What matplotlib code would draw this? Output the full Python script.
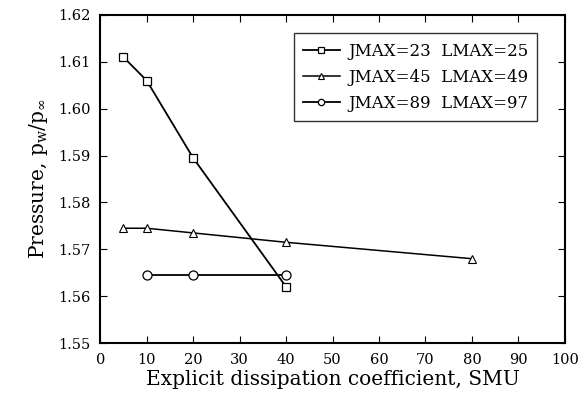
import matplotlib
matplotlib.use("Agg")
import matplotlib.pyplot as plt

plt.rcParams['font.family'] = ['DejaVu Serif']
plt.rcParams['mathtext.fontset'] = 'dejavuserif'

# dissipation coefficient (SMU) vs wall pressure ratio, one series per grid
smu_23 = [5, 10, 20, 40]
p_23 = [1.611, 1.606, 1.5895, 1.562]
smu_45 = [5, 10, 20, 40, 80]
p_45 = [1.5745, 1.5745, 1.5735, 1.5715, 1.568]
smu_89 = [10, 20, 40]
p_89 = [1.5645, 1.5645, 1.5645]
labels = ["JMAX=23  LMAX=25", "JMAX=45  LMAX=49", "JMAX=89  LMAX=97"]

fig = plt.figure(figsize=(5.86, 3.93), dpi=100)
ax = fig.add_axes([0.171, 0.127, 0.793, 0.835])

ax.plot(smu_23, p_23, color='black', lw=1.3, marker='s', ms=6, mfc='white', mec='black', mew=0.9, label=labels[0])
ax.plot(smu_45, p_45, color='black', lw=1.1, marker='^', ms=5.5, mfc='white', mec='black', mew=0.8, label=labels[1])
ax.plot(smu_89, p_89, color='black', lw=1.3, marker='o', ms=6.5, mfc='white', mec='black', mew=0.9, label=labels[2])

ax.set_xlim(0, 100)
ax.set_ylim(1.55, 1.62)
ax.set_xticks(range(0, 101, 10))
ax.set_yticks([1.55, 1.56, 1.57, 1.58, 1.59, 1.60, 1.61, 1.62])
ax.set_yticklabels(["1.55", "1.56", "1.57", "1.58", "1.59", "1.60", "1.61", "1.62"])
ax.tick_params(direction='in', top=True, right=True, length=5, width=0.8, labelsize=10.5, pad=7)
for s in ax.spines.values():
    s.set_linewidth(1.5)

ax.set_xlabel("Explicit dissipation coefficient, SMU", fontsize=14.5, labelpad=2)
ax.set_ylabel(r"Pressure, $\mathregular{p_w/p_\infty}$", fontsize=14.5, labelpad=6)

leg = ax.legend(loc='upper right', bbox_to_anchor=(0.948, 0.954), fontsize=12, frameon=True, fancybox=False,
                edgecolor='black', handlelength=2.2, handletextpad=0.5, borderpad=0.55, labelspacing=0.55,
                borderaxespad=0.2, markerscale=0.7)
leg.get_frame().set_linewidth(1.0)

fig.savefig("out.png", dpi=100)
